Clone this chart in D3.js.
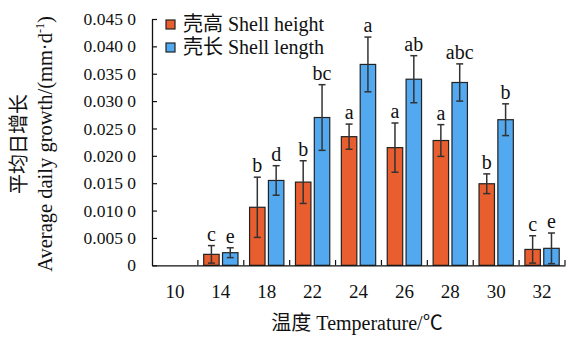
<!DOCTYPE html>
<html><head><meta charset="utf-8">
<script src="https://cdn.jsdelivr.net/npm/d3@7"></script>
</head>
<body style="margin:0;background:#fff;"><svg id="c" width="568" height="338"></svg>
<script>
const categories = ["10","14","18","22","24","26","28","30","32"];
const seriesNames = ["壳高 Shell height","壳长 Shell length"];
const heightVals = [0, 0.0020, 0.0106, 0.0152, 0.0235, 0.0215, 0.0228, 0.0149, 0.0029];
const heightErr  = [0, 0.0016, 0.0055, 0.0039, 0.0023, 0.0045, 0.0029, 0.0018, 0.0025];
const lengthVals = [0, 0.0023, 0.0155, 0.0270, 0.0367, 0.0340, 0.0334, 0.0266, 0.0031];
const lengthErr  = [0, 0.0009, 0.0027, 0.0060, 0.0050, 0.0043, 0.0034, 0.0029, 0.0028];
const heightLetters = ["", "c","b","b","a","a","a","b","c"];
const lengthLetters = ["", "e","d","bc","a","ab","abc","b","e"];
const yTicks = [0,0.005,0.010,0.015,0.020,0.025,0.030,0.035,0.040,0.045];
const colors = ["#E95E2E","#52A9EF"];
const FONT = "'Liberation Serif', 'Noto Sans CJK SC', serif";

const svg = d3.select("#c");
const x0 = d3.scaleBand().domain(categories).range([152,565]);
const x1 = d3.scaleBand().domain([0,1]).range([5.8,40.1]).paddingInner(0.18);
const y = d3.scaleLinear().domain([0,0.045]).range([265.3,19]);

const series = [
  {vals:heightVals, err:heightErr, letters:heightLetters},
  {vals:lengthVals, err:lengthErr, letters:lengthLetters}
];

// bars
series.forEach((s,si)=>{
  const g = svg.append("g");
  categories.forEach((c,i)=>{
    if(s.vals[i] <= 0) return;
    const bx = x0(c)+x1(si), bw = x1.bandwidth();
    g.append("rect").attr("x",bx).attr("y",y(s.vals[i])).attr("width",bw)
      .attr("height",y(0)-y(s.vals[i])).attr("fill",colors[si])
      .attr("stroke","#222").attr("stroke-width",1.2);
    const cx = bx+bw/2, top = y(s.vals[i]+s.err[i]), bot = y(Math.max(0,s.vals[i]-s.err[i]));
    g.append("line").attr("x1",cx).attr("x2",cx).attr("y1",top).attr("y2",bot)
      .attr("stroke","#333").attr("stroke-width",1.5);
    [top,bot].forEach(yy=>g.append("line").attr("x1",cx-3.5).attr("x2",cx+3.5)
      .attr("y1",yy).attr("y2",yy).attr("stroke","#333").attr("stroke-width",1.5));
    g.append("text").attr("x",cx).attr("y",top-5).attr("text-anchor","middle")
      .style("font-family",FONT).style("font-size","20px").style("fill","#111").text(s.letters[i]);
  });
});

// y axis
const yAxis = d3.axisLeft(y).tickValues(yTicks).tickSizeInner(-5).tickSizeOuter(0)
  .tickPadding(16).tickFormat(d=> d===0 ? "0" : d.toFixed(3)+" 0");
const ya = svg.append("g").attr("transform","translate(152,0)").call(yAxis);
ya.select(".domain").attr("stroke","#111").attr("stroke-width",1.3);
ya.selectAll(".tick line").attr("stroke","#111").attr("stroke-width",1.2);
ya.selectAll("text").style("font-family",FONT).style("font-size","17.5px").style("fill","#111");

// x axis
const xa = svg.append("g").attr("transform","translate(0,265.3)")
  .call(d3.axisBottom(x0).tickSize(0).tickPadding(19));
xa.select(".domain").attr("stroke","#111").attr("stroke-width",1.3);
xa.selectAll("text").style("font-family",FONT).style("font-size","19px").style("fill","#111");
categories.slice(1).concat(["end"]).forEach((c)=>{
  const xx = c==="end" ? 565 : x0(c);
  svg.append("line").attr("x1",xx).attr("x2",xx).attr("y1",265.3).attr("y2",260)
    .attr("stroke","#111").attr("stroke-width",1.2);
});

// legend
seriesNames.forEach((n,i)=>{
  const ly = 24.5 + i*23;
  svg.append("rect").attr("x",166).attr("y",ly-4.5).attr("width",9).attr("height",9)
    .attr("fill",colors[i]).attr("stroke","#222").attr("stroke-width",1.2);
  svg.append("text").attr("x",183).attr("y",ly+6.5)
    .style("font-family",FONT).style("font-size","20px").style("fill","#111").text(n);
});

// axis titles
svg.append("text").attr("x",357).attr("y",330).attr("text-anchor","middle")
  .style("font-family",FONT).style("font-size","20px").style("fill","#111").text("温度 Temperature/℃");
svg.append("text").attr("transform","translate(26,144) rotate(-90)")
  .attr("text-anchor","middle").style("font-family",FONT).style("font-size","20px").style("fill","#111").text("平均日增长");
const t2 = svg.append("text").attr("transform","translate(52,144) rotate(-90)")
  .attr("text-anchor","middle").style("font-family",FONT).style("font-size","20.5px").style("fill","#111");
t2.append("tspan").text("Average daily growth/(mm·d");
t2.append("tspan").style("font-size","12px").attr("dy",-8).text("-1");
t2.append("tspan").attr("dy",8).text(")");
</script></body></html>
